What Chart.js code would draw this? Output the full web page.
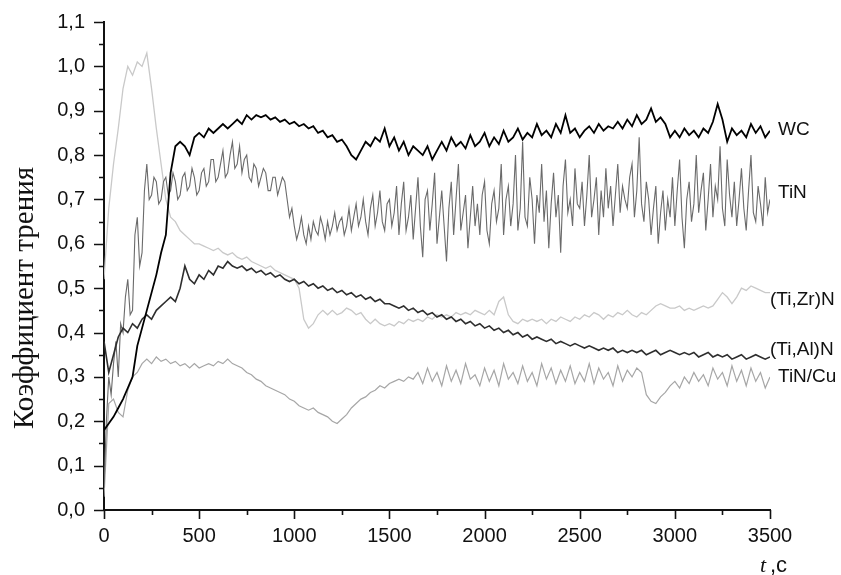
<!DOCTYPE html>
<html>
<head>
<meta charset="utf-8">
<script src="https://cdn.jsdelivr.net/npm/chart.js@4.4.1/dist/chart.umd.min.js"></script>
<style>
  html, body { margin: 0; padding: 0; background: #fff; }
</style>
</head>
<body>
<canvas id="chart" width="841" height="575"></canvas>
<script>
const X_TICKS = [0, 500, 1000, 1500, 2000, 2500, 3000, 3500];
const Y_TICKS = [0, 0.1, 0.2, 0.3, 0.4, 0.5, 0.6, 0.7, 0.8, 0.9, 1.0, 1.1];

// values, one row = 500 s
// WC, (Ti,Zr)N, (Ti,Al)N, TiN/Cu: every 25 s
const wc = [
  0.18, 0.195, 0.21, 0.23, 0.25, 0.275, 0.30, 0.37, 0.41, 0.45, 0.49, 0.53, 0.58, 0.62, 0.76, 0.82, 0.83, 0.82, 0.80, 0.84,
  0.85, 0.84, 0.86, 0.85, 0.86, 0.87, 0.86, 0.87, 0.88, 0.87, 0.89, 0.88, 0.89, 0.885, 0.89, 0.88, 0.885, 0.875, 0.88, 0.87,
  0.875, 0.865, 0.87, 0.86, 0.865, 0.85, 0.855, 0.84, 0.845, 0.83, 0.835, 0.82, 0.80, 0.79, 0.81, 0.83, 0.82, 0.84, 0.83, 0.86,
  0.82, 0.84, 0.81, 0.83, 0.80, 0.82, 0.81, 0.80, 0.82, 0.79, 0.81, 0.83, 0.81, 0.84, 0.82, 0.83, 0.815, 0.845, 0.82, 0.83,
  0.85, 0.82, 0.84, 0.825, 0.855, 0.83, 0.84, 0.86, 0.835, 0.85, 0.84, 0.87, 0.845, 0.855, 0.84, 0.87, 0.85, 0.89, 0.85, 0.86,
  0.84, 0.855, 0.865, 0.85, 0.87, 0.855, 0.865, 0.86, 0.875, 0.86, 0.88, 0.865, 0.89, 0.87, 0.88, 0.905, 0.875, 0.885, 0.87, 0.84,
  0.855, 0.84, 0.86, 0.845, 0.855, 0.84, 0.86, 0.85, 0.875, 0.915, 0.88, 0.83, 0.86, 0.845, 0.855, 0.84, 0.87, 0.85, 0.865, 0.84,
  0.855
];

// TiN: every 12.5 s (it flickers much faster)
const tin = [
  0.05, 0.20, 0.30, 0.26, 0.33, 0.38, 0.30, 0.42, 0.40, 0.48, 0.52, 0.44, 0.45, 0.62, 0.66, 0.55, 0.58, 0.72, 0.78, 0.70,
  0.71, 0.75, 0.74, 0.69, 0.70, 0.74, 0.75, 0.71, 0.72, 0.76, 0.74, 0.70, 0.71, 0.75, 0.76, 0.72, 0.73, 0.77, 0.75, 0.71,
  0.72, 0.76, 0.77, 0.73, 0.74, 0.79, 0.79, 0.74, 0.75, 0.78, 0.81, 0.75, 0.76, 0.80, 0.83, 0.77, 0.78, 0.82, 0.76, 0.79,
  0.80, 0.75, 0.74, 0.78, 0.77, 0.73, 0.75, 0.77, 0.76, 0.72, 0.72, 0.75, 0.75, 0.71, 0.73, 0.75, 0.74, 0.70, 0.66, 0.68,
  0.64, 0.61, 0.63, 0.66, 0.62, 0.60, 0.64, 0.61, 0.65, 0.63, 0.62, 0.66, 0.64, 0.61, 0.65, 0.62, 0.64, 0.67, 0.63, 0.65,
  0.66, 0.62, 0.64, 0.68, 0.63, 0.66, 0.69, 0.64, 0.66, 0.70, 0.65, 0.62, 0.68, 0.71, 0.64, 0.67, 0.72, 0.65, 0.63, 0.69,
  0.70, 0.64, 0.67, 0.73, 0.62, 0.69, 0.74, 0.63, 0.66, 0.71, 0.61, 0.68, 0.75, 0.64, 0.57, 0.70, 0.72, 0.63, 0.69, 0.76,
  0.60, 0.66, 0.72, 0.64, 0.56, 0.68, 0.74, 0.62, 0.70, 0.78, 0.63, 0.67, 0.71, 0.59, 0.66, 0.73, 0.64, 0.69, 0.62, 0.71,
  0.74, 0.63, 0.60, 0.69, 0.72, 0.65, 0.68, 0.78, 0.62, 0.70, 0.73, 0.64, 0.69, 0.80, 0.63, 0.68, 0.83, 0.66, 0.64, 0.75,
  0.70, 0.60, 0.71, 0.67, 0.78, 0.65, 0.72, 0.59, 0.69, 0.76, 0.66, 0.71, 0.58, 0.73, 0.79, 0.67, 0.70, 0.64, 0.77, 0.69,
  0.68, 0.74, 0.64, 0.71, 0.80, 0.66, 0.70, 0.75, 0.62, 0.72, 0.66, 0.77, 0.68, 0.73, 0.64, 0.71, 0.78, 0.67, 0.73, 0.70,
  0.68, 0.75, 0.78, 0.66, 0.72, 0.84, 0.69, 0.65, 0.74, 0.70, 0.62, 0.68, 0.73, 0.60, 0.67, 0.72, 0.63, 0.70, 0.66, 0.75,
  0.64, 0.72, 0.79, 0.66, 0.59, 0.70, 0.74, 0.65, 0.69, 0.80, 0.67, 0.72, 0.76, 0.63, 0.70, 0.78, 0.66, 0.73, 0.70, 0.82,
  0.68, 0.64, 0.79, 0.71, 0.66, 0.74, 0.64, 0.70, 0.77, 0.68, 0.63, 0.72, 0.80, 0.67, 0.65, 0.73, 0.69, 0.64, 0.75, 0.67,
  0.70
];

const tiZrN = [
  0.52, 0.68, 0.78, 0.86, 0.95, 1.00, 0.98, 1.01, 1.00, 1.03, 0.95, 0.86, 0.78, 0.70, 0.66, 0.65, 0.63, 0.62, 0.61, 0.60,
  0.60, 0.595, 0.59, 0.585, 0.59, 0.58, 0.575, 0.58, 0.57, 0.565, 0.57, 0.56, 0.555, 0.55, 0.545, 0.55, 0.54, 0.535, 0.53, 0.525,
  0.52, 0.50, 0.43, 0.41, 0.42, 0.44, 0.45, 0.44, 0.45, 0.44, 0.445, 0.455, 0.45, 0.44, 0.445, 0.43, 0.42, 0.43, 0.42, 0.415,
  0.42, 0.415, 0.425, 0.42, 0.43, 0.425, 0.43, 0.425, 0.435, 0.43, 0.44, 0.435, 0.44, 0.435, 0.445, 0.44, 0.445, 0.44, 0.45, 0.445,
  0.44, 0.45, 0.44, 0.47, 0.48, 0.44, 0.425, 0.42, 0.43, 0.425, 0.43, 0.425, 0.43, 0.42, 0.43, 0.425, 0.435, 0.43, 0.425, 0.435,
  0.43, 0.44, 0.435, 0.445, 0.44, 0.43, 0.44, 0.435, 0.445, 0.44, 0.45, 0.44, 0.435, 0.445, 0.44, 0.45, 0.46, 0.465, 0.46, 0.455,
  0.455, 0.46, 0.45, 0.455, 0.45, 0.455, 0.46, 0.455, 0.46, 0.475, 0.49, 0.48, 0.465, 0.48, 0.50, 0.495, 0.505, 0.50, 0.495, 0.49,
  0.49
];

const tiAlN = [
  0.38, 0.31, 0.35, 0.39, 0.41, 0.40, 0.42, 0.41, 0.43, 0.44, 0.43, 0.45, 0.46, 0.47, 0.48, 0.47, 0.50, 0.55, 0.52, 0.51,
  0.53, 0.52, 0.54, 0.53, 0.55, 0.545, 0.56, 0.55, 0.545, 0.55, 0.54, 0.545, 0.535, 0.54, 0.53, 0.535, 0.525, 0.53, 0.52, 0.515,
  0.52, 0.51, 0.515, 0.505, 0.51, 0.50, 0.505, 0.495, 0.50, 0.49, 0.495, 0.485, 0.49, 0.48, 0.485, 0.475, 0.48, 0.47, 0.475, 0.465,
  0.465, 0.46, 0.455, 0.46, 0.45, 0.455, 0.445, 0.45, 0.44, 0.445, 0.435, 0.44, 0.43, 0.435, 0.425, 0.43, 0.42, 0.425, 0.415, 0.42,
  0.41, 0.415, 0.405, 0.41, 0.40, 0.405, 0.395, 0.40, 0.39, 0.395, 0.385, 0.39, 0.385, 0.38, 0.385, 0.375, 0.38, 0.375, 0.37, 0.375,
  0.37, 0.365, 0.37, 0.365, 0.36, 0.365, 0.36, 0.365, 0.355, 0.36, 0.355, 0.36, 0.355, 0.36, 0.35, 0.355, 0.36, 0.35, 0.355, 0.36,
  0.355, 0.35, 0.355, 0.35, 0.355, 0.345, 0.35, 0.355, 0.345, 0.35, 0.345, 0.35, 0.34, 0.345, 0.35, 0.34, 0.345, 0.35, 0.345, 0.34,
  0.345
];

const tinCu = [
  0.03, 0.24, 0.25, 0.22, 0.21, 0.27, 0.30, 0.31, 0.33, 0.34, 0.33, 0.345, 0.335, 0.34, 0.33, 0.335, 0.325, 0.33, 0.32, 0.33,
  0.32, 0.325, 0.33, 0.325, 0.335, 0.33, 0.34, 0.33, 0.325, 0.32, 0.31, 0.305, 0.295, 0.29, 0.28, 0.275, 0.27, 0.265, 0.26, 0.25,
  0.245, 0.235, 0.23, 0.225, 0.23, 0.22, 0.215, 0.21, 0.20, 0.195, 0.205, 0.215, 0.23, 0.24, 0.25, 0.255, 0.265, 0.27, 0.28, 0.275,
  0.285, 0.29, 0.295, 0.29, 0.30, 0.295, 0.31, 0.285, 0.32, 0.29, 0.31, 0.28, 0.325, 0.29, 0.315, 0.285, 0.33, 0.295, 0.305, 0.28,
  0.32, 0.29, 0.315, 0.28, 0.33, 0.295, 0.31, 0.285, 0.325, 0.29, 0.31, 0.28, 0.33, 0.295, 0.32, 0.285, 0.315, 0.29, 0.325, 0.285,
  0.31, 0.29, 0.33, 0.285, 0.32, 0.295, 0.31, 0.28, 0.325, 0.29, 0.315, 0.30, 0.32, 0.31, 0.26, 0.245, 0.24, 0.255, 0.265, 0.28,
  0.29, 0.275, 0.30, 0.285, 0.31, 0.29, 0.305, 0.28, 0.32, 0.295, 0.31, 0.28, 0.325, 0.29, 0.315, 0.28, 0.32, 0.29, 0.31, 0.275,
  0.30
];

// step = seconds between samples; labelAt = height of the name at the line end
// first one is drawn on top
const series = [
  { name: "WC",       values: wc,    step: 25,   color: "#000000", width: 1.8, labelAt: 0.857 },
  { name: "(Ti,Al)N", values: tiAlN, step: 25,   color: "#2e2e2e", width: 1.6, labelAt: 0.362 },
  { name: "TiN",      values: tin,   step: 12.5, color: "#6a6a6a", width: 1.1, labelAt: 0.714 },
  { name: "TiN/Cu",   values: tinCu, step: 25,   color: "#a6a6a6", width: 1.2, labelAt: 0.300 },
  { name: "(Ti,Zr)N", values: tiZrN, step: 25,   color: "#c9c9c9", width: 1.3, labelAt: 0.474 },
];

const INK = "#111111";
const SANS = "'Liberation Sans', Arial, sans-serif";
const SERIF = "'Liberation Serif', 'Times New Roman', serif";

// tick marks (major + minor), line names, axis titles
const decorations = {
    id: "decorations",
    afterDraw(chart) {
        const { ctx, scales: { x, y }, chartArea } = chart;
        ctx.save();
        ctx.strokeStyle = INK;
        ctx.lineWidth = 1.6;
        ctx.beginPath();
        Y_TICKS.forEach((v, i) => {
            const py = Math.round(y.getPixelForValue(v)) + 0.5;
            ctx.moveTo(chartArea.left - 10, py);
            ctx.lineTo(chartArea.left, py);
            if (i < Y_TICKS.length - 1) {
                const pm = Math.round(y.getPixelForValue((v + Y_TICKS[i + 1]) / 2)) + 0.5;
                ctx.moveTo(chartArea.left - 5, pm);
                ctx.lineTo(chartArea.left, pm);
            }
        });
        X_TICKS.forEach((v, i) => {
            const px = Math.round(x.getPixelForValue(v)) + 0.5;
            ctx.moveTo(px, chartArea.bottom);
            ctx.lineTo(px, chartArea.bottom + 9);
            if (i < X_TICKS.length - 1) {
                const pm = Math.round(x.getPixelForValue((v + X_TICKS[i + 1]) / 2)) + 0.5;
                ctx.moveTo(pm, chartArea.bottom);
                ctx.lineTo(pm, chartArea.bottom + 5);
            }
        });
        ctx.stroke();

        // names at the right end of each line
        ctx.fillStyle = INK;
        ctx.font = "19px " + SANS;
        ctx.textBaseline = "middle";
        ctx.textAlign = "left";
        const endX = x.getPixelForValue(3500);
        series.forEach(s => {
            const offset = s.name.startsWith("(") ? 0 : 8;
            ctx.fillText(s.name, endX + offset, y.getPixelForValue(s.labelAt));
        });

        // y axis title
        ctx.save();
        ctx.translate(33, 298);
        ctx.rotate(-Math.PI / 2);
        ctx.textAlign = "center";
        ctx.textBaseline = "alphabetic";
        ctx.font = "29px " + SERIF;
        ctx.fillText("Коэффициент трения", 0, 0);
        ctx.restore();

        // x axis title: t, с
        ctx.textAlign = "left";
        ctx.textBaseline = "alphabetic";
        ctx.font = "italic 22px " + SERIF;
        ctx.fillText("t", 760, 572);
        ctx.font = "22px " + SANS;
        ctx.fillText(",с", 770, 572);
        ctx.restore();
    }
};

new Chart(document.getElementById("chart"), {
    type: "line",
    data: {
        datasets: series.map(s => ({
            label: s.name,
            data: s.values.map((v, i) => ({ x: i * s.step, y: v })),
            borderColor: s.color,
            borderWidth: s.width,
            pointRadius: 0,
            tension: 0,
            fill: false,
        })),
    },
    options: {
        responsive: false,
        animation: false,
        layout: { padding: { top: 22, right: 71, left: 0, bottom: 0 } },
        plugins: { legend: { display: false }, tooltip: { enabled: false } },
        scales: {
            x: {
                type: "linear",
                min: 0,
                max: 3500,
                afterBuildTicks: axis => { axis.ticks = X_TICKS.map(v => ({ value: v })); },
                afterFit: axis => {
                    axis.height = 65;
                    axis.paddingLeft = 0;
                    axis.paddingRight = 0;
                },
                grid: { display: false, drawTicks: false },
                border: { display: true, color: INK, width: 2 },
                ticks: {
                    color: INK,
                    font: { family: SANS, size: 20 },
                    padding: 14,
                    maxRotation: 0,
                    callback: v => String(v),
                },
            },
            y: {
                min: 0,
                max: 1.1,
                afterBuildTicks: axis => { axis.ticks = Y_TICKS.map(v => ({ value: v })); },
                afterFit: axis => {
                    axis.width = 104;
                    axis.paddingTop = 0;
                    axis.paddingBottom = 0;
                },
                grid: { display: false, drawTicks: false },
                border: { display: true, color: INK, width: 2 },
                ticks: {
                    color: INK,
                    font: { family: SANS, size: 20 },
                    padding: 19,
                    callback: v => v.toFixed(1).replace(".", ","),
                },
            },
        },
    },
    plugins: [decorations],
});
</script>
</body>
</html>
